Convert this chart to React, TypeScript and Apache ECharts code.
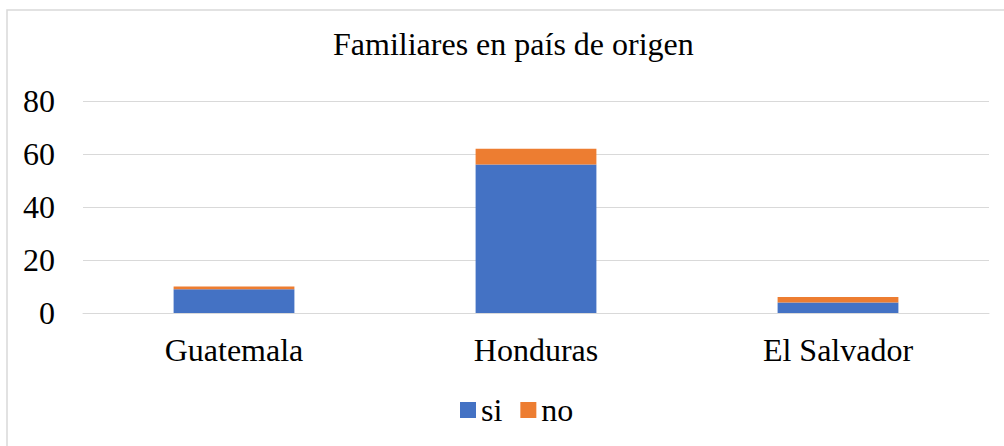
import React, { useEffect, useRef } from "react";
import * as echarts from "echarts";

const categories = ["Guatemala", "Honduras", "El Salvador"];
const siValues = [9, 56, 4];
const noValues = [1, 6, 2];
const yTicks = { min: 0, max: 80, interval: 20 };
const titleText = "Familiares en país de origen";

const FONT = "Liberation Serif";

export default function App() {
  const ref = useRef<HTMLDivElement>(null);
  useEffect(() => {
    document.body.style.margin = "0";
    const chart = echarts.init(ref.current!, null, { renderer: "svg" });
    chart.setOption({
      animation: false,
      backgroundColor: "#ffffff",
      textStyle: { fontFamily: FONT, color: "#000" },
      title: {
        text: titleText,
        left: 333,
        top: 28,
        padding: 0,
        textStyle: { fontFamily: FONT, fontSize: 32, fontWeight: "normal", color: "#000" },
      },
      legend: {
        bottom: 15,
        left: 455,
        itemWidth: 16,
        itemHeight: 16,
        itemGap: 18,
        icon: "rect",
        textStyle: { fontFamily: FONT, fontSize: 32, color: "#000" },
        data: ["si", "no"],
      },
      grid: { left: 83, right: 15, top: 101, bottom: 133 },
      xAxis: {
        type: "category",
        data: categories,
        axisLine: { show: true, lineStyle: { color: "#D9D9D9", width: 1 } },
        axisTick: { show: false },
        axisLabel: { fontFamily: FONT, fontSize: 32, color: "#000", margin: 21 },
      },
      yAxis: {
        type: "value",
        min: yTicks.min,
        max: yTicks.max,
        interval: yTicks.interval,
        axisLine: { show: false },
        axisTick: { show: false },
        splitLine: { lineStyle: { color: "#D9D9D9", width: 1 } },
        axisLabel: { fontFamily: FONT, fontSize: 32, color: "#000", margin: 28 },
      },
      series: [
        {
          name: "si",
          type: "bar",
          stack: "total",
          barWidth: "40%",
          data: siValues,
          itemStyle: { color: "#4472C4" },
        },
        {
          name: "no",
          type: "bar",
          stack: "total",
          barWidth: "40%",
          data: noValues,
          itemStyle: { color: "#ED7D31" },
        },
      ],
      graphic: [
        {
          type: "rect",
          silent: true,
          z: 100,
          shape: { x: 7, y: 10, width: 1200, height: 600 },
          style: { fill: "none", stroke: "#D9D9D9", lineWidth: 1.5 },
        },
      ],
    });
    return () => chart.dispose();
  }, []);
  return <div ref={ref} style={{ width: 1004, height: 446 }} />;
}
